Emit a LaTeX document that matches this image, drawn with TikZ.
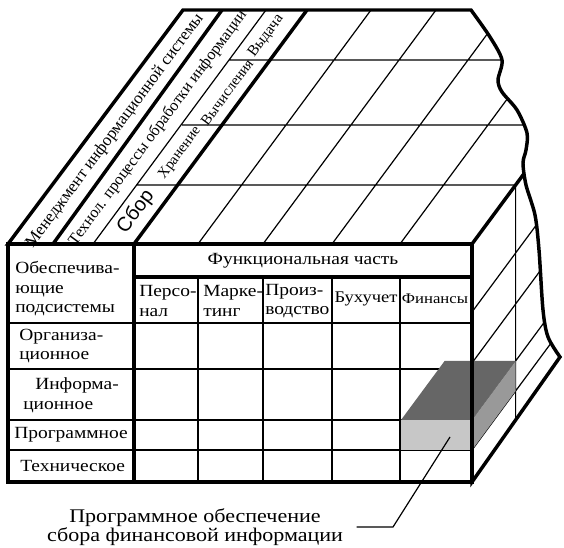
\documentclass[tikz,border=0pt]{standalone}
\usepackage{fontspec}
\setmainfont{Liberation Serif}[FakeStretch=1.14]
\newfontfamily\plainserif{Liberation Serif}
\newfontfamily\plainsans{Liberation Sans}
\newcommand\brokenrim{(472,244) -- (8,244) -- (183,10)
    -- plot[smooth] coordinates {(471,10) (490,37) (502,60) (498,80) (502,92)
       (517,110) (527,133) (526,150) (523,163) (526,185) (535,215) (539,250)
       (543,310) (548,337) (560,357)}
    -- (472,482) -- cycle}
\begin{document}
\begin{tikzpicture}[
x=0.75pt,y=-0.75pt,
rim/.style={draw,line width=2.6pt},
grid/.style={draw,line width=0.9pt},
darkface/.style={fill={black!60}},
midface/.style={fill={black!40}},
lightface/.style={fill={black!22}},
cell/.style={inner sep=0pt,align=left,font=\fontsize{12.8}{14.6}\selectfont},
side/.style={inner sep=0pt,rotate=53.5,font=\plainserif\fontsize{11}{13}\selectfont},
]
\useasboundingbox (0,0) rectangle (564,548);
% top and right faces, cut by the broken edge
\begin{scope}
\clip \brokenrim;
\path[grid]
    (93,244) -- +(173,-234)
    (198,244) -- +(173,-234)
    (263,244) -- +(173,-234)
    (332,244) -- +(173,-234)
    (400,244) -- +(173,-234)
    (137,185) -- (515.6,185)
    (182,125) -- (564,125)
    (229,60) -- (564,60)
    (515.6,185) -- (515.6,482)
    (472,312) -- +(173,-234)
    (472,363) -- +(173,-234)
    (472,420) -- +(173,-234)
    (472,450) -- +(173,-234);
\path[rim]
    (53,244) -- (222,10)
    (134,244) -- (307,10)
    (472,244) -- +(173,-234);
\end{scope}
\path[rim] \brokenrim;
% front face
\path[grid]
    (198,277) -- (198,482)
    (263,277) -- (263,482)
    (332,277) -- (332,482)
    (400,277) -- (400,482)
    (8,323) -- (472,323)
    (8,369) -- (472,369)
    (8,420) -- (472,420)
    (8,450) -- (472,450);
% the marked cell
\path[lightface] (401,420) rectangle (472,450);
\path[darkface] (401,420) -- (444.6,361) -- (515.6,361) -- (472,420) -- cycle;
\path[midface] (472,420) -- (515.6,361) -- (515.6,391) -- (472,450) -- cycle;
\path[rim]
    (8,244) rectangle (472,482)
    (134,244) -- (134,482)
    (134,277) -- (472,277);
% labels on the top
\node[side,font=\plainserif\fontsize{12.6}{14}\selectfont] (mgmt) at (115,131) {Менеджмент информационной системы};
\node[side,font=\plainserif\fontsize{12}{14}\selectfont] (proc) at (158,128) {Технол. процессы обработки информации};
\node[side,font=\plainsans\fontsize{15}{17}\selectfont] (collect) at (136,212) {Сбор};
\node[side] (store) at (180,153) {Хранение};
\node[side] (compute) at (227,92) {Вычисления};
\node[side,font=\plainserif\fontsize{11.5}{13}\selectfont] (output) at (266,36) {Выдача};
% labels on the front
\node[cell,anchor=west] (support) at (15,289) {Обеспечива-\\ющие\\подсистемы};
\node[cell] (func) at (303,261) {Функциональная часть};
\node[cell,anchor=west] (staff) at (139,301) {Персо-\\нал};
\node[cell,anchor=west] (market) at (203,301) {Марке-\\тинг};
\node[cell,anchor=west] (product) at (265,301) {Произ-\\водство};
\node[cell,font=\fontsize{12.2}{14}\selectfont] (account) at (366,299) {Бухучет};
\node[cell,font=\fontsize{11}{14}\selectfont] (finance) at (435,299) {Финансы};
\node[cell,anchor=west] (org) at (19,346) {Организа-\\ционное};
\node[cell,anchor=west] (info) at (23,395) {\hspace*{9pt}Информа-\\ционное};
\node[cell,anchor=west] (soft) at (14,435) {Программное};
\node[cell,anchor=west] (tech) at (20,466) {Техническое};
% callout
\coordinate (pin) at (450,437);
\coordinate (elbow) at (393,523);
\node[cell,align=center,inner xsep=10pt,font=\fontsize{14.5}{14.6}\selectfont] (note) at (195,527) {Программное обеспечение\\сбора финансовой информации};
\path[grid] (note.east) -- (elbow |- note.east) -- (pin);
\end{tikzpicture}
\end{document}
